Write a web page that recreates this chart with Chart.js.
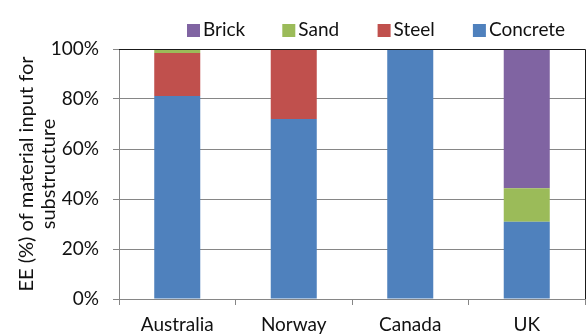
<!DOCTYPE html>
<html>
<head>
<meta charset="utf-8">
<script src="https://cdn.jsdelivr.net/npm/chart.js@4"></script>
<style>
  html, body { margin: 0; padding: 0; background: #fff; }
  #wrap { width: 587px; height: 336px; }
</style>
</head>
<body>
<div id="wrap"><canvas id="chart" width="587" height="336"></canvas></div>
<script>
// share of embodied energy per material (%)
const countries = ['Australia', 'Norway', 'Canada', 'UK'];
const concrete = [81.2, 72, 100, 30.9];
const steel = [17.2, 28, 0, 0];
const sand = [1.6, 0, 0, 13.4];
const brick = [0, 0, 0, 55.7];
const yTicks = [0, 20, 40, 60, 80, 100];

const FONT = 'Lato, "Open Sans", sans-serif';
const TXT = '#111';

// legend drawn by hand so the items sit on an even spacing, newest series first
const sideLegend = {
  id: 'sideLegend',
  afterDraw(chart) {
    const ctx = chart.ctx;
    const items = chart.data.datasets.slice().reverse();
    ctx.save();
    ctx.font = '19px ' + FONT;
    ctx.textBaseline = 'middle';
    items.forEach((ds, i) => {
      const x = 187 + i * 95.3;
      ctx.fillStyle = ds.backgroundColor;
      ctx.fillRect(x, 24, 13, 13);
      ctx.fillStyle = TXT;
      ctx.fillText(ds.label, x + 16, 30);
    });
    ctx.restore();
  }
};

// dark frame on the top and right of the plot area
const plotFrame = {
  id: 'plotFrame',
  afterDatasetsDraw(chart) {
    const { ctx, chartArea: a } = chart;
    ctx.save();
    ctx.strokeStyle = '#1a1a1a';
    ctx.lineWidth = 1;
    ctx.beginPath();
    ctx.moveTo(a.left, a.top + 0.5);
    ctx.lineTo(a.right + 0.5, a.top + 0.5);
    ctx.lineTo(a.right + 0.5, a.bottom);
    ctx.stroke();
    ctx.restore();
  }
};

new Chart(document.getElementById('chart'), {
  type: 'bar',
  data: {
    labels: countries,
    datasets: [
      { label: 'Concrete', data: concrete, backgroundColor: '#4F81BD' },
      { label: 'Steel', data: steel, backgroundColor: '#C0504D' },
      { label: 'Sand', data: sand, backgroundColor: '#9BBB59' },
      { label: 'Brick', data: brick, backgroundColor: '#8064A2' }
    ]
  },
  options: {
    responsive: false,
    animation: false,
    events: [],
    barPercentage: 0.395,
    categoryPercentage: 1,
    layout: { padding: { top: 49, right: 2, left: 0, bottom: 0 } },
    plugins: {
      legend: { display: false },
      tooltip: { enabled: false }
    },
    scales: {
      x: {
        stacked: true,
        grid: {
          drawOnChartArea: false,
          tickLength: 6,
          color: '#868686'
        },
        border: { color: '#868686' },
        ticks: { color: TXT, font: { family: FONT, size: 19 }, padding: 8, maxRotation: 0 },
        afterFit(s) { s.height = 37; }
      },
      y: {
        stacked: true,
        min: 0,
        max: 100,
        afterBuildTicks(s) { s.ticks = yTicks.map(v => ({ value: v })); },
        grid: { color: '#868686', tickLength: 6 },
        border: { color: '#868686' },
        ticks: {
          color: TXT,
          font: { family: FONT, size: 19 },
          padding: 14,
          callback: v => v + '%'
        },
        title: {
          display: true,
          text: ['EE (%) of material input for', 'substructure'],
          color: TXT,
          font: { family: FONT, size: 20, lineHeight: 1.1 },
          padding: { top: 16, bottom: 0 }
        },
        afterFit(s) { s.width = 119; }
      }
    }
  },
  plugins: [sideLegend, plotFrame]
});
</script>
</body>
</html>
